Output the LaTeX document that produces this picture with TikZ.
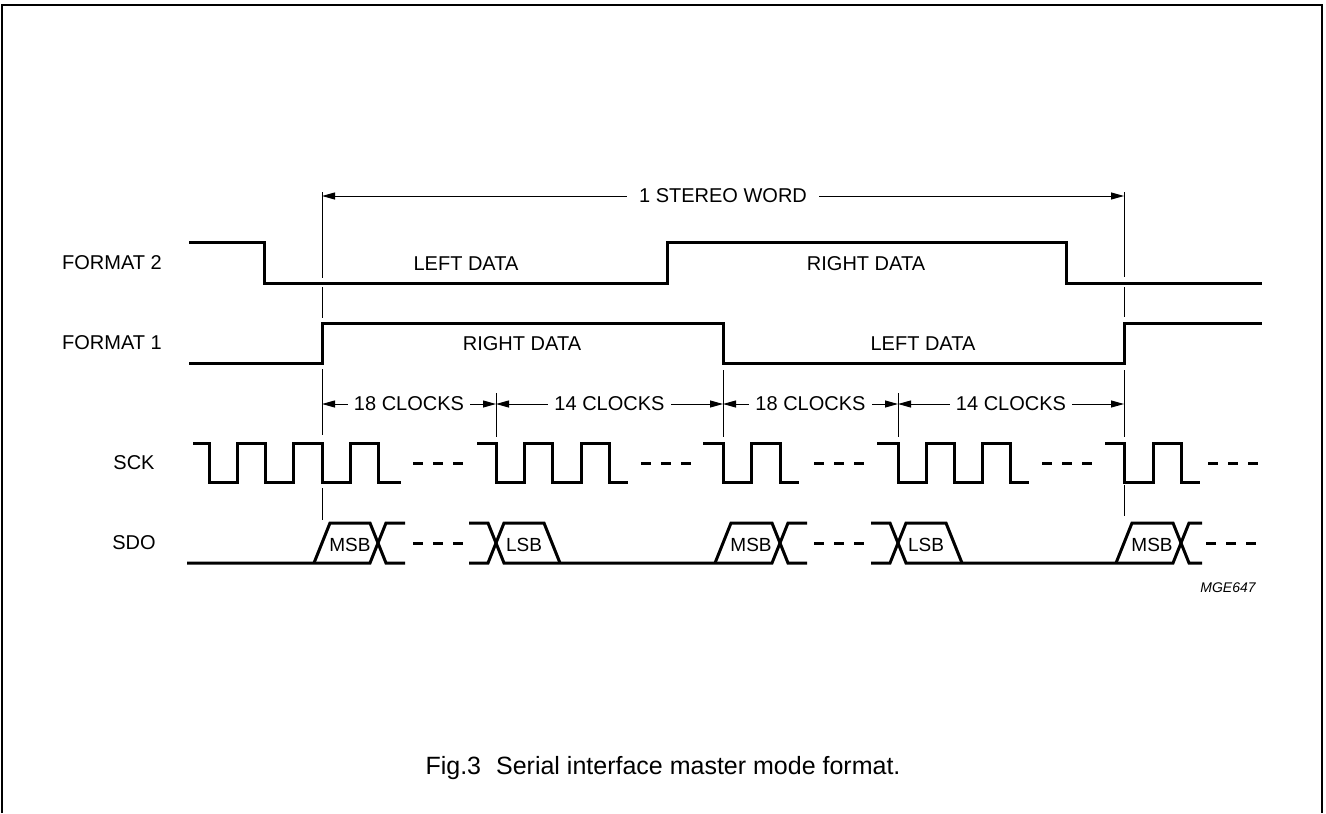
\documentclass[tikz,border=0pt]{standalone}
\usepackage{fontspec}
\setmainfont{Liberation Sans}
\usetikzlibrary{arrows.meta}

\tikzset{
  sig/.style={line width=1.5pt, line join=miter},
  guide/.style={line width=0.5pt},
  dim/.style={line width=0.5pt, {Triangle[length=6.5pt,width=3.5pt]}-{Triangle[length=6.5pt,width=3.5pt]}},
  gap/.style={line width=1.5pt, dash pattern=on 5pt off 5pt},
  lbl/.style={font=\fontsize{10}{12}\selectfont, inner sep=0pt},
  dimlbl/.style={font=\fontsize{10}{12}\selectfont, fill=white, inner sep=3pt},
  bit/.style={font=\fontsize{9.5}{11}\selectfont, inner sep=0pt}
}

\begin{document}
\begin{tikzpicture}[x=0.5pt,y=-0.5pt]
\useasboundingbox (0,0) rectangle (1326,813);

\draw[line width=1pt] (2,813) -- (2,5) -- (1322,5) -- (1322,813);

\node[lbl] (fmt2) at (112,263) {FORMAT 2};
\node[lbl] (fmt1) at (112,343) {FORMAT 1};
\node[lbl] (sck) at (134,463) {SCK};
\node[lbl] (sdo) at (134,543) {SDO};

\draw[sig] (189,242) -- (264,242) -- (264,283) -- (667,283) -- (667,242) -- (1066,242) -- (1066,283) -- (1262,283);
\draw[sig] (189,363) -- (322,363) -- (322,323) -- (723,323) -- (723,363) -- (1124,363) -- (1124,323) -- (1262,323);

\node[lbl] (left2) at (466,264) {LEFT DATA};
\node[lbl] (right2) at (866,264) {RIGHT DATA};
\node[lbl] (right1) at (522,344) {RIGHT DATA};
\node[lbl] (left1) at (923,344) {LEFT DATA};

\draw[sig] (193,443) -- (209,443) -- (209,482) -- (237,482) -- (237,443) -- (265,443) -- (265,482) -- (293,482) -- (293,443) -- (322,443) -- (322,482) -- (350,482) -- (350,443) -- (378,443) -- (378,482) -- (401,482);
\draw[sig] (477,443) -- (496,443) -- (496,482) -- (524,482) -- (524,443) -- (552,443) -- (552,482) -- (581,482) -- (581,443) -- (609,443) -- (609,482) -- (628,482);
\draw[sig] (703,443) -- (723,443) -- (723,482) -- (751,482) -- (751,443) -- (780,443) -- (780,482) -- (799,482);
\draw[sig] (877,443) -- (898,443) -- (898,482) -- (926,482) -- (926,443) -- (954,443) -- (954,482) -- (982,482) -- (982,443) -- (1010,443) -- (1010,482) -- (1029,482);
\draw[sig] (1105,443) -- (1124,443) -- (1124,482) -- (1153,482) -- (1153,443) -- (1181,443) -- (1181,482) -- (1200,482);

\draw[gap] (413,463) -- (463,463);
\draw[gap] (641,463) -- (691,463);
\draw[gap] (814,463) -- (864,463);
\draw[gap] (1042,463) -- (1092,463);
\draw[gap] (1208,463) -- (1258,463);

\draw[sig] (187,563) -- (370,563) -- (386,523) -- (405,523);
\draw[sig] (314,563) -- (330,523) -- (370,523) -- (386,563) -- (405,563);
\draw[sig] (469,523) -- (488,523) -- (504,563) -- (772,563) -- (788,523) -- (807,523);
\draw[sig] (469,563) -- (488,563) -- (504,523) -- (544,523) -- (560,563);
\draw[sig] (715,563) -- (731,523) -- (772,523) -- (788,563) -- (807,563);
\draw[sig] (871,523) -- (890,523) -- (906,563) -- (1173,563) -- (1189,523) -- (1202,523);
\draw[sig] (871,563) -- (890,563) -- (906,523) -- (946,523) -- (962,563);
\draw[sig] (1116,563) -- (1132,523) -- (1173,523) -- (1189,563) -- (1202,563);

\draw[gap] (413,543) -- (463,543);
\draw[gap] (814,543) -- (864,543);
\draw[gap] (1206,543) -- (1256,543);

\node[bit] (msb1) at (350,545) {MSB};
\node[bit] (lsb1) at (524,545) {LSB};
\node[bit] (msb2) at (751,545) {MSB};
\node[bit] (lsb2) at (926,545) {LSB};
\node[bit] (msb3) at (1152,545) {MSB};

\draw[guide] (322,192) -- (322,278);
\draw[guide] (322,287) -- (322,318);
\draw[guide] (322,369) -- (322,435);
\draw[guide] (322,488) -- (322,520);
\draw[guide] (1124,192) -- (1124,277);
\draw[guide] (1124,287) -- (1124,317);
\draw[guide] (1124,370) -- (1124,437);
\draw[guide] (1124,485) -- (1124,516);
\draw[guide] (496,393) -- (496,437);
\draw[guide] (723,370) -- (723,437);
\draw[guide] (898,393) -- (898,437);

\coordinate (w0) at (322,196);
\coordinate (w1) at (1124,196);
\coordinate (c0) at (322,404);
\coordinate (c1) at (496,404);
\coordinate (c2) at (723,404);
\coordinate (c3) at (898,404);
\coordinate (c4) at (1124,404);

\draw[dim] (w0) -- node[dimlbl, inner xsep=6pt] (word) {1 STEREO WORD} (w1);
\draw[dim] (c0) -- node[dimlbl] (clk1) {18 CLOCKS} (c1);
\draw[dim] (c1) -- node[dimlbl] (clk2) {14 CLOCKS} (c2);
\draw[dim] (c2) -- node[dimlbl] (clk3) {18 CLOCKS} (c3);
\draw[dim] (c3) -- node[dimlbl] (clk4) {14 CLOCKS} (c4);

\node[font=\fontsize{7}{8}\selectfont\itshape, inner sep=0pt] (code) at (1228,588) {MGE647};

\node[font=\fontsize{12.5}{15}\selectfont, inner sep=0pt] (caption) at (663,768) {Fig.3\hspace{0.6em}Serial interface master mode format.};
\end{tikzpicture}
\end{document}
